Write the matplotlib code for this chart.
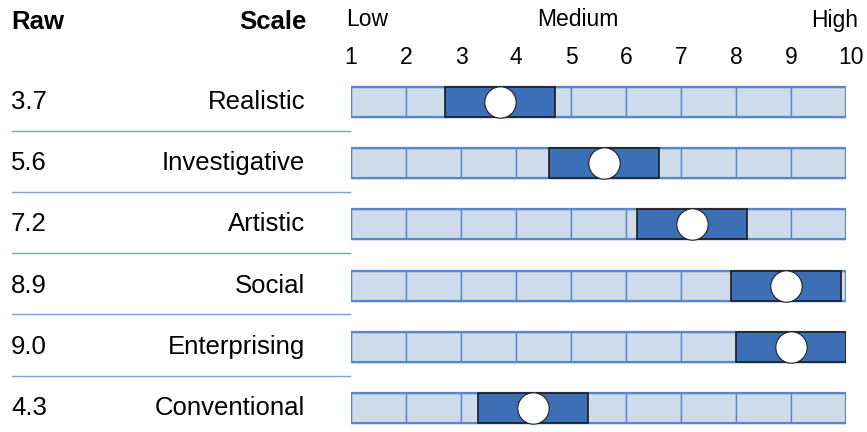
import matplotlib
matplotlib.use("Agg")
import matplotlib.pyplot as plt
import matplotlib.transforms as mtransforms
from matplotlib.patches import Rectangle

plt.rcParams['font.family'] = ['Liberation Sans', 'DejaVu Sans']

scales = ["Realistic", "Investigative", "Artistic", "Social", "Enterprising", "Conventional"]
raw = [3.7, 5.6, 7.2, 8.9, 9.0, 4.3]
band_half = 1.0
ticks = [1, 2, 3, 4, 5, 6, 7, 8, 9, 10]
level_labels = ["Low", "Medium", "High"]

W, H = 867, 432
fig = plt.figure(figsize=(W / 100, H / 100), dpi=100)

x0, x1 = 351, 846
ax = fig.add_axes([x0 / W, 0, (x1 - x0) / W, 1])
row0, step = 102, 61.2
ax.set_xlim(ticks[0], ticks[-1])
ax.set_ylim((H - row0) / step, -row0 / step)
ax.axis('off')

light = "#CFDCEC"
edge = "#5B87C8"
dark = "#3D6FB6"
bar_h = 30 / step
fs = 18.5
fs2 = 16.5

for i, (name, v) in enumerate(zip(scales, raw)):
    ax.barh([i] * (len(ticks) - 1), [1] * (len(ticks) - 1), left=ticks[:-1], height=bar_h,
            color=light, edgecolor=edge, linewidth=1.0, zorder=1)
    ax.add_patch(Rectangle((ticks[0], i - bar_h / 2), ticks[-1] - ticks[0], bar_h,
                           fill=False, edgecolor=edge, linewidth=1.6, zorder=2))
    ax.barh(i, 2 * band_half, left=v - band_half, height=bar_h,
            color=dark, edgecolor="#1b1b1b", linewidth=1.2, zorder=3)
    ax.scatter([v], [i], s=510, facecolor="white", edgecolor="#222222", linewidth=0.8, zorder=4)

trans = mtransforms.blended_transform_factory(fig.transFigure, ax.transData)
for i, (name, v) in enumerate(zip(scales, raw)):
    ax.text(11 / W, i, f"{v:.1f}", transform=trans, ha='left', va='center', fontsize=fs, clip_on=False)
    ax.text(305 / W, i, name, transform=trans, ha='right', va='center', fontsize=fs, clip_on=False)
    if i < len(scales) - 1:
        ax.plot([12 / W, 350 / W], [i + 0.47, i + 0.47], transform=trans, color="#7FA0D6",
                linewidth=1.0, clip_on=False)

yh = (22 - row0) / step
ax.text(11 / W, yh, "Raw", transform=trans, ha='left', va='center', fontsize=fs, fontweight='bold')
ax.text(307 / W, yh, "Scale", transform=trans, ha='right', va='center', fontsize=fs, fontweight='bold')

yl = (20 - row0) / step
ax.text(ticks[0] - 0.08, yl, level_labels[0], ha='left', va='center', fontsize=fs2, clip_on=False)
ax.text(5.13, yl, level_labels[1], ha='center', va='center', fontsize=fs2, clip_on=False)
ax.text(ticks[-1] + 0.22, yl, level_labels[2], ha='right', va='center', fontsize=fs2, clip_on=False)

yt = (57 - row0) / step
for t in ticks:
    off = 0.1 if t == ticks[-1] else 0
    ax.text(t + off, yt, str(t), ha='center', va='center', fontsize=fs2, clip_on=False)

fig.savefig("out.png", dpi=100)
